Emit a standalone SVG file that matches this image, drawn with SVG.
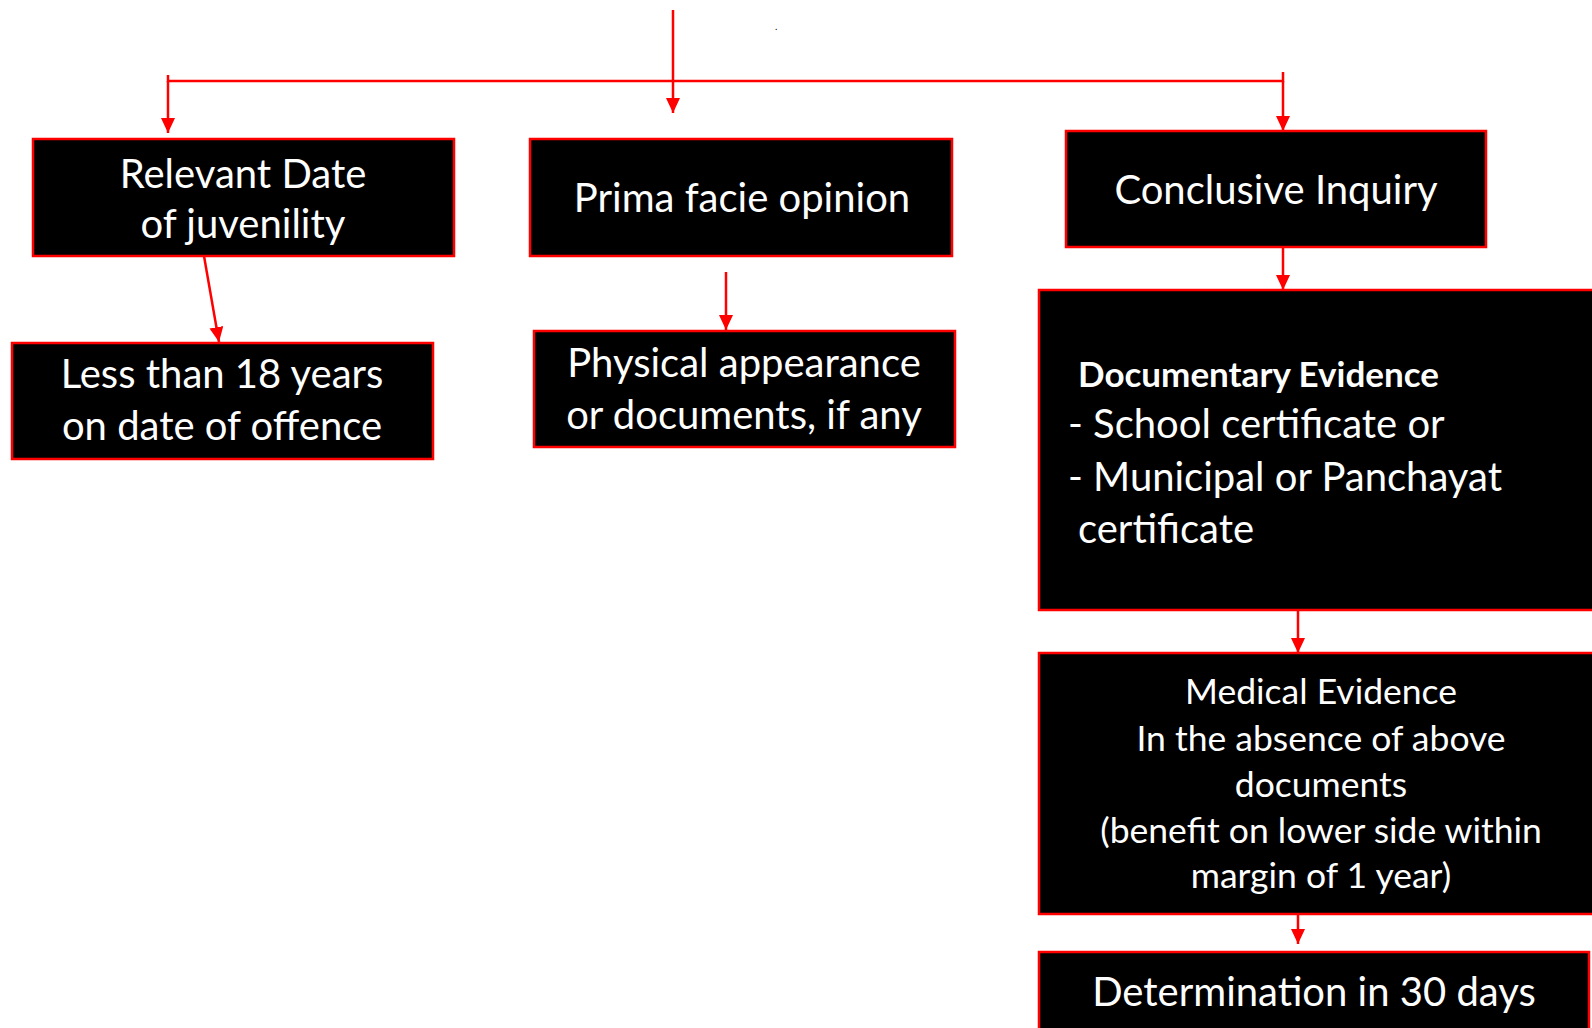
<svg xmlns="http://www.w3.org/2000/svg" width="1592" height="1028" viewBox="0 0 1592 1028">
<style>
.box{fill:#000;stroke:#ff0000;stroke-width:2.5}
.t{font-family:Lato,"Liberation Sans",sans-serif;fill:#fff;font-size:40px}
.c{text-anchor:middle}
.s{font-size:35.5px}
.b{font-weight:bold;font-size:35px}
.ln{stroke:#ff0000;stroke-width:2.5;fill:none}
</style>
<defs>
<marker id="ah" markerUnits="userSpaceOnUse" markerWidth="16" markerHeight="16" refX="15" refY="7" orient="auto">
<path d="M0,0 L15,7 L0,14 Z" fill="#ff0000"/>
</marker>
</defs>
<rect width="1592" height="1028" fill="#fff"/>
<text x="775" y="30" font-family="Lato,sans-serif" font-size="10" fill="#000">.</text>
<g id="connectors">
<line class="ln" x1="673" y1="10" x2="673" y2="113" marker-end="url(#ah)"/>
<polyline class="ln" points="168,75 168,81 1283,81 1283,72"/>
<line class="ln" x1="168" y1="81" x2="168" y2="133" marker-end="url(#ah)"/>
<line class="ln" x1="1283" y1="81" x2="1283" y2="131" marker-end="url(#ah)"/>
<line class="ln" x1="204" y1="256" x2="219" y2="342" marker-end="url(#ah)"/>
<line class="ln" x1="726" y1="272" x2="726" y2="330" marker-end="url(#ah)"/>
<line class="ln" x1="1283" y1="247" x2="1283" y2="290" marker-end="url(#ah)"/>
<line class="ln" x1="1298" y1="610" x2="1298" y2="653" marker-end="url(#ah)"/>
<line class="ln" x1="1298" y1="914" x2="1298" y2="944" marker-end="url(#ah)"/>
</g>
<g id="relevant-date">
<rect class="box" x="33" y="139" width="421" height="117"/>
<text class="t c" x="243" y="188">Relevant Date</text>
<text class="t c" x="243" y="238">of juvenility</text>
</g>
<g id="prima-facie">
<rect class="box" x="530" y="139" width="422" height="117"/>
<text class="t c" x="742" y="212">Prima facie opinion</text>
</g>
<g id="conclusive-inquiry">
<rect class="box" x="1066" y="131" width="420" height="116"/>
<text class="t c" x="1276" y="204">Conclusive Inquiry</text>
</g>
<g id="less-than-18">
<rect class="box" x="12" y="343" width="421" height="116"/>
<text class="t c" x="222" y="388">Less than 18 years</text>
<text class="t c" x="222" y="440">on date of offence</text>
</g>
<g id="physical-appearance">
<rect class="box" x="534" y="331" width="421" height="116"/>
<text class="t c" x="744" y="377">Physical appearance</text>
<text class="t c" x="744" y="429">or documents, if any</text>
</g>
<g id="documentary-evidence">
<rect class="box" x="1039" y="290" width="570" height="320"/>
<text class="t b" x="1078" y="387">Documentary Evidence</text>
<text class="t" x="1068" y="438">- School certificate or</text>
<text class="t" x="1068" y="491">- Municipal or Panchayat</text>
<text class="t" x="1078" y="543">certificate</text>
</g>
<g id="medical-evidence">
<rect class="box" x="1039" y="653" width="570" height="261"/>
<text class="t c s" x="1321" y="704">Medical Evidence</text>
<text class="t c s" x="1321" y="751">In the absence of above</text>
<text class="t c s" x="1321" y="797">documents</text>
<text class="t c s" x="1321" y="843">(benefit on lower side within</text>
<text class="t c s" x="1321" y="888">margin of 1 year)</text>
</g>
<g id="determination">
<rect class="box" x="1039" y="952" width="550" height="90"/>
<text class="t c" x="1314" y="1006">Determination in 30 days</text>
</g>
</svg>
